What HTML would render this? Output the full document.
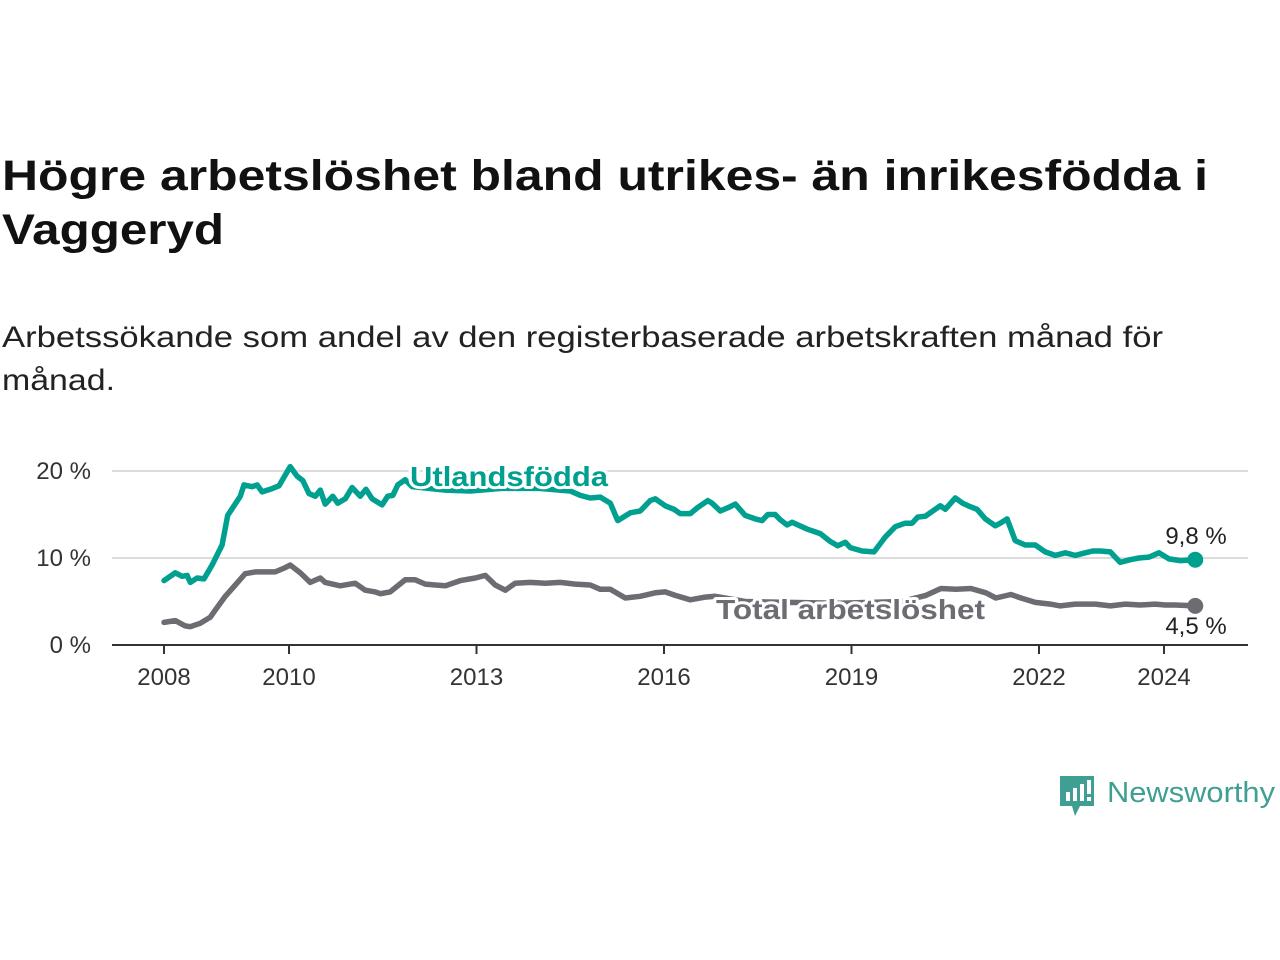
<!DOCTYPE html>
<html><head><meta charset="utf-8"><style>
body{margin:0;background:#fff;}
svg{display:block;font-family:"Liberation Sans",sans-serif;}
</style></head><body>
<svg width="1280" height="960" viewBox="0 0 1280 960">
<text x="2" y="190" font-size="43" font-weight="bold" fill="#111" textLength="1206" lengthAdjust="spacingAndGlyphs">Högre arbetslöshet bland utrikes- än inrikesfödda i</text>
<text x="2" y="244" font-size="43" font-weight="bold" fill="#111" textLength="222" lengthAdjust="spacingAndGlyphs">Vaggeryd</text>
<text x="2" y="347" font-size="30" fill="#222" textLength="1161" lengthAdjust="spacingAndGlyphs">Arbetssökande som andel av den registerbaserade arbetskraften månad för</text>
<text x="2" y="390" font-size="30" fill="#222" textLength="113" lengthAdjust="spacingAndGlyphs">månad.</text>
<g id="grid"></g>
<g id="axes"></g>
<g id="series"></g>
<g>
<path d="M1060 776 h34 v30 h-14 l-5 10 l-3 -10 h-12 z" fill="#3f9f93"/>
<rect x="1066" y="792" width="4" height="9" fill="#fff"/><rect x="1073" y="788" width="4" height="13" fill="#fff"/><rect x="1080" y="784" width="4" height="17" fill="#fff"/><rect x="1087" y="780" width="4" height="14" fill="#fff"/><rect x="1087" y="797" width="4" height="4" fill="#fff"/>
<text x="1107" y="802" font-size="29" fill="#3f9f93" textLength="168" lengthAdjust="spacingAndGlyphs">Newsworthy</text>
</g>
</svg>
<script>
const utlDates=[2008.00,2008.18,2008.29,2008.37,2008.42,2008.53,2008.64,2008.77,2008.93,2009.02,2009.22,2009.28,2009.41,2009.49,2009.57,2009.70,2009.84,2010.02,2010.13,2010.22,2010.32,2010.42,2010.50,2010.58,2010.70,2010.78,2010.90,2011.01,2011.14,2011.23,2011.33,2011.49,2011.58,2011.66,2011.74,2011.86,2011.97,2012.50,2012.90,2013.40,2014.00,2014.50,2014.66,2014.82,2014.98,2015.14,2015.26,2015.46,2015.62,2015.78,2015.86,2016.02,2016.16,2016.26,2016.42,2016.54,2016.70,2016.77,2016.90,2017.06,2017.14,2017.30,2017.46,2017.57,2017.66,2017.78,2017.86,2017.97,2018.05,2018.14,2018.30,2018.50,2018.66,2018.78,2018.90,2018.98,2019.17,2019.36,2019.54,2019.70,2019.86,2019.97,2020.06,2020.18,2020.42,2020.50,2020.66,2020.78,2020.90,2021.01,2021.14,2021.30,2021.38,2021.49,2021.62,2021.78,2021.94,2022.10,2022.26,2022.42,2022.58,2022.74,2022.86,2022.98,2023.14,2023.30,2023.46,2023.60,2023.76,2023.92,2024.08,2024.26,2024.50];
const utlValues=[7.4,8.3,7.9,8.0,7.2,7.7,7.6,9.2,11.5,14.9,17.1,18.4,18.2,18.4,17.6,17.9,18.3,20.5,19.4,18.9,17.4,17.1,17.8,16.2,17.1,16.3,16.8,18.1,17.1,17.9,16.8,16.1,17.1,17.2,18.4,19.0,18.2,17.8,17.7,18.0,18.0,17.7,17.2,16.9,17.0,16.3,14.3,15.2,15.4,16.6,16.8,16.0,15.6,15.1,15.1,15.8,16.6,16.3,15.4,15.9,16.2,14.9,14.5,14.3,15.0,15.0,14.4,13.8,14.1,13.8,13.3,12.8,11.9,11.4,11.8,11.2,10.8,10.7,12.4,13.6,14.0,14.0,14.7,14.8,16.0,15.6,16.9,16.3,15.9,15.6,14.5,13.7,14.0,14.5,12.0,11.5,11.5,10.7,10.3,10.6,10.3,10.6,10.8,10.8,10.7,9.5,9.8,10.0,10.1,10.6,9.9,9.7,9.8];
const totDates=[2008.00,2008.18,2008.34,2008.42,2008.58,2008.74,2008.82,2008.98,2009.14,2009.30,2009.46,2009.78,2009.94,2010.02,2010.18,2010.34,2010.50,2010.58,2010.82,2011.06,2011.22,2011.38,2011.46,2011.62,2011.86,2012.02,2012.18,2012.34,2012.50,2012.74,2012.98,2013.14,2013.30,2013.46,2013.62,2013.86,2014.10,2014.34,2014.58,2014.82,2014.98,2015.14,2015.38,2015.62,2015.86,2016.02,2016.18,2016.42,2016.66,2016.82,2017.30,2018.00,2018.80,2019.30,2019.80,2020.19,2020.43,2020.67,2020.91,2021.15,2021.31,2021.55,2021.71,2021.94,2022.18,2022.34,2022.58,2022.90,2023.14,2023.38,2023.62,2023.86,2024.02,2024.18,2024.50];
const totValues=[2.6,2.8,2.2,2.1,2.5,3.2,4.0,5.6,6.9,8.2,8.4,8.4,8.9,9.2,8.3,7.2,7.7,7.2,6.8,7.1,6.3,6.1,5.9,6.1,7.5,7.5,7.0,6.9,6.8,7.4,7.7,8.0,6.9,6.3,7.1,7.2,7.1,7.2,7.0,6.9,6.4,6.4,5.4,5.6,6.0,6.1,5.7,5.2,5.5,5.6,5.0,4.9,4.8,4.9,5.0,5.7,6.5,6.4,6.5,6.0,5.4,5.8,5.4,4.9,4.7,4.5,4.7,4.7,4.5,4.7,4.6,4.7,4.6,4.6,4.5];
const yTicks=[0,10,20];
const yTickLabels=["0 %","10 %","20 %"];
const xTicks=[2008,2010,2013,2016,2019,2022,2024];
const xTickLabels=["2008","2010","2013","2016","2019","2022","2024"];
const endLabels=["9,8 %","4,5 %"];

const NS="http://www.w3.org/2000/svg";
const X=d=>164+(d-2008)*62.5;
const Y=v=>645-v*8.7;
function mk(tag,attrs,parent){const e=document.createElementNS(NS,tag);for(const k in attrs)e.setAttribute(k,attrs[k]);parent.appendChild(e);return e;}
const grid=document.getElementById('grid'),axes=document.getElementById('axes'),series=document.getElementById('series');
yTicks.forEach((t,i)=>{
  if(t>0){const l=mk('line',{x1:112,x2:1248,y1:Y(t),y2:Y(t),stroke:'#dcdcdc','stroke-width':2},grid);
  
  }
  const tx=mk('text',{x:91,y:Y(t)+8,'font-size':24,fill:'#333','text-anchor':'end'},axes);
  tx.textContent=yTickLabels[i];
  
  
});
const base=mk('line',{x1:112,x2:1248,y1:Y(0),y2:Y(0),stroke:'#333','stroke-width':2},axes);


xTicks.forEach((t,i)=>{
  const tk=mk('line',{x1:X(t),x2:X(t),y1:Y(0),y2:Y(0)+9,stroke:'#333','stroke-width':2},axes);
  
  
  const tx=mk('text',{x:X(t),y:685,'font-size':24,fill:'#333','text-anchor':'middle'},axes);
  tx.textContent=xTickLabels[i];
  
  
});
function line(dates,vals,color,name){
  const d=dates.map((t,i)=>(i?'L':'M')+X(t).toFixed(1)+' '+Y(vals[i]).toFixed(1)).join(' ');
  const p=mk('path',{d:d,fill:'none',stroke:color,'stroke-width':5.5,'stroke-linejoin':'round','stroke-linecap':'round'},series);
  
  
  const n=dates.length-1;
  const c=mk('circle',{cx:X(dates[n]),cy:Y(vals[n]),r:8,fill:color},series);
  
  
}
line(totDates,totValues,'#6d6c72','total');
line(utlDates,utlValues,'#00a091','utlandsfodda');
function label(txt,x,y,color,size,bold,name,anchor,len){
  const extra=len?{textLength:len,lengthAdjust:'spacingAndGlyphs'}:{};
  const o=mk('text',Object.assign({x:x,y:y,'font-size':size,'font-weight':bold?'bold':'normal',fill:'none',stroke:'#fff','stroke-width':6,'stroke-linejoin':'round','text-anchor':anchor},extra),series);
  o.textContent=txt;
  
  
  const t=mk('text',Object.assign({x:x,y:y,'font-size':size,'font-weight':bold?'bold':'normal',fill:color,'text-anchor':anchor},extra),series);
  t.textContent=txt;
  
  
}
label('Utlandsfödda',410,486,'#00a091',28,true,'utlandsfodda-label','start',198);
label('Total arbetslöshet',716,619,'#6d6c72',28,true,'total-label','start',269);
label(endLabels[0],1196,544,'#222',24,false,'utlandsfodda-end-label','middle');
label(endLabels[1],1196,634,'#222',24,false,'total-end-label','middle');
</script>
</body></html>
